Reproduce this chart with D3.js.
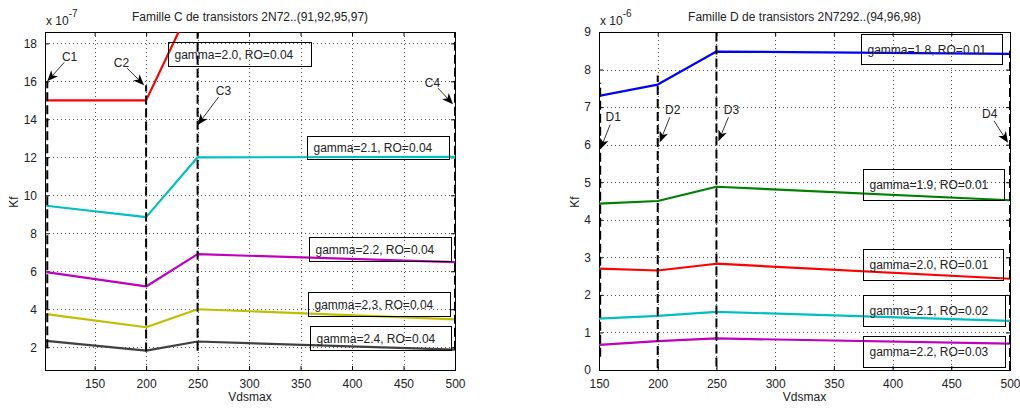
<!DOCTYPE html>
<html><head><meta charset="utf-8">
<script src="https://cdn.jsdelivr.net/npm/d3@7"></script>
<style>body{margin:0;background:#fff}svg{display:block}text{font-family:"Liberation Sans",Arial,sans-serif;fill:#222}</style>
</head><body><svg id="c" width="1020" height="408"></svg>
<script>
// ---------- data ----------
const titleC = "Famille C de transistors 2N72..(91,92,95,97)";
const titleD = "Famille D de transistors 2N7292..(94,96,98)";
const xLabel = "Vdsmax", yLabel = "Kf";
const xTicksC = [150, 200, 250, 300, 350, 400, 450, 500];
const yTicksC = [2, 4, 6, 8, 10, 12, 14, 16, 18];
const xTicksD = [150, 200, 250, 300, 350, 400, 450, 500];
const yTicksD = [0, 1, 2, 3, 4, 5, 6, 7, 8, 9];

const vdsC = [103, 200, 250, 500];
const kfC_g20 = [15.0, 15.0, 20.7, 20.5];
const kfC_g21 = [9.45, 8.85, 12.0, 12.02];
const kfC_g22 = [5.95, 5.2, 6.9, 6.48];
const kfC_g23 = [3.74, 3.05, 4.0, 3.47];
const kfC_g24 = [2.33, 1.82, 2.3, 1.87];
const labelsC = ["gamma=2.0, RO=0.04", "gamma=2.1, RO=0.04", "gamma=2.2, RO=0.04", "gamma=2.3, RO=0.04", "gamma=2.4, RO=0.04"];

const vdsD = [150, 200, 250, 500];
const kfD_g18 = [7.3, 7.6, 8.48, 8.42];
const kfD_g19 = [4.43, 4.5, 4.88, 4.52];
const kfD_g20 = [2.7, 2.65, 2.83, 2.43];
const kfD_g21 = [1.37, 1.44, 1.55, 1.31];
const kfD_g22 = [0.67, 0.77, 0.84, 0.70];
const labelsD = ["gamma=1.8, RO=0.01", "gamma=1.9, RO=0.01", "gamma=2.0, RO=0.01", "gamma=2.1, RO=0.02", "gamma=2.2, RO=0.03"];

// marker lines: name, x, y from, y to, arrow tip y
const markNamesC = ["C1", "C2", "C3", "C4"];
const markXC = [104, 200, 250, 500];
const markLoC = [1.95, 1.77, 1.82, 1.86];
const markHiC = [16.0, 15.8, 18.6, 18.6];
const markTipC = [16.0, 15.8, 13.7, 14.8];
const markNamesD = ["D1", "D2", "D3", "D4"];
const markXD = [151, 200, 250, 500];
const markLoD = [0.35, 0.05, 0.09, 0.0];
const markHiD = [7.65, 7.84, 9.0, 8.5];
const markTipD = [5.87, 6.06, 6.09, 6.05];

// ---------- layout ----------
const colors7 = ["#0000ff", "#008000", "#ff0000", "#00bfbf", "#bf00bf", "#bfbf00", "#404040"];
const svg = d3.select("#c");

function panel(cfg) {
  const {x0, x1, y0, y1, xDom, yDom, xTicks, yTicks, title, exp, series, xs, labels, boxes, marks, colors} = cfg;
  const x = d3.scaleLinear().domain(xDom).range([x0, x1]);
  const y = d3.scaleLinear().domain(yDom).range([y1, y0]);
  const g = svg.append("g");
  const cid = "clip" + Math.round(x0);
  svg.append("clipPath").attr("id", cid).append("rect").attr("x", x0).attr("y", y0).attr("width", x1 - x0).attr("height", y1 - y0);

  // grid
  const grid = g.append("g").attr("stroke", "#555").attr("stroke-width", 1).attr("stroke-dasharray", "1,3");
  xTicks.forEach(t => grid.append("line").attr("x1", Math.round(x(t)) + 0.5).attr("x2", Math.round(x(t)) + 0.5).attr("y1", y0).attr("y2", y1));
  yTicks.forEach(t => grid.append("line").attr("y1", Math.round(y(t)) + 0.5).attr("y2", Math.round(y(t)) + 0.5).attr("x1", x0).attr("x2", x1));

  // axes (inner ticks both sides)
  const ax = g.append("g");
  const bottom = d3.axisBottom(x).tickValues(xTicks).tickSizeInner(-4).tickSizeOuter(0).tickPadding(9);
  const top = d3.axisTop(x).tickValues(xTicks).tickSizeInner(-4).tickSizeOuter(0).tickFormat("");
  const left = d3.axisLeft(y).tickValues(yTicks).tickSizeInner(-4).tickSizeOuter(0).tickPadding(8);
  const right = d3.axisRight(y).tickValues(yTicks).tickSizeInner(-4).tickSizeOuter(0).tickFormat("");
  [[bottom, `translate(0,${y1})`], [top, `translate(0,${y0})`], [left, `translate(${x0},0)`], [right, `translate(${x1},0)`]].forEach(([a, tr]) => {
    const s = ax.append("g").attr("transform", tr).call(a);
    s.select(".domain").remove();
    s.selectAll("line").attr("stroke", "#000");
    s.selectAll("text").attr("font-size", 12).attr("fill", "#222").style("font-family", '"Liberation Sans",Arial,sans-serif');
  });
  g.append("rect").attr("x", x0 + 0.5).attr("y", y0 + 0.5).attr("width", x1 - x0).attr("height", y1 - y0).attr("fill", "none").attr("stroke", "#000");

  // series
  const line = d3.line().x((d, i) => x(xs[i])).y(d => y(d));
  const lg = g.append("g").attr("clip-path", `url(#${cid})`);
  series.forEach((s, i) => lg.append("path").attr("d", line(s)).attr("fill", "none").attr("stroke", colors[i]).attr("stroke-width", 2.2).attr("stroke-linejoin", "round"));

  // marker dashed lines
  const mg = g.append("g").attr("clip-path", `url(#${cid})`);
  marks.x.forEach((mx, i) => mg.append("line").attr("x1", x(mx)).attr("x2", x(mx)).attr("y1", y(marks.lo[i])).attr("y2", y(marks.hi[i]))
    .attr("stroke", "#000").attr("stroke-width", 2).attr("stroke-dasharray", "9,4"));

  // arrows
  marks.x.forEach((mx, i) => {
    const tx = x(mx) + marks.tipDx[i], ty = y(marks.tip[i]);
    const sx = tx + marks.off[i][0], sy = ty + marks.off[i][1];
    const L = Math.hypot(tx - sx, ty - sy), ux = (tx - sx) / L, uy = (ty - sy) / L;
    const hl = 11, hw = 4.5;
    const bx = tx - ux * hl, by = ty - uy * hl;
    const mxp = tx - ux * (hl - 3), myp = ty - uy * (hl - 3);
    g.append("line").attr("x1", sx).attr("y1", sy).attr("x2", bx + ux * 3).attr("y2", by + uy * 3).attr("stroke", "#333").attr("stroke-width", 1);
    g.append("path").attr("d", `M${tx},${ty}L${bx - uy * hw},${by + ux * hw}L${mxp},${myp}L${bx + uy * hw},${by - ux * hw}Z`).attr("fill", "#000");
    g.append("text").attr("x", sx - ux * 8).attr("y", sy - uy * 8).attr("dy", "0.35em").attr("text-anchor", "middle").attr("font-size", 12).text(marks.names[i]);
  });

  // text boxes
  labels.forEach((t, i) => {
    const bx = Math.round(x(boxes[i][0])) + 0.5, by = Math.round(y(boxes[i][1])) + 0.5;
    g.append("rect").attr("x", bx).attr("y", by).attr("width", boxes[i][2]).attr("height", boxes[i][3]).attr("fill", "none").attr("stroke", "#000").attr("stroke-width", 1);
    g.append("text").attr("x", bx + 6).attr("y", by + boxes[i][3] / 2).attr("dy", "0.35em").attr("font-size", 12).text(t);
  });

  // titles and labels
  g.append("text").attr("x", (x0 + x1) / 2).attr("y", 21).attr("text-anchor", "middle").attr("font-size", 12).text(title);
  const e = g.append("text").attr("x", x0 + 1).attr("y", 25).attr("font-size", 12);
  e.append("tspan").text("x 10");
  e.append("tspan").attr("dy", -8).attr("font-size", 10).text(exp);
  g.append("text").attr("x", (x0 + x1) / 2).attr("y", 401).attr("text-anchor", "middle").attr("font-size", 12).text(xLabel);
  g.append("text").attr("transform", `translate(${cfg.ylx},202) rotate(-90)`).attr("dy", "0.35em").attr("text-anchor", "middle").attr("font-size", 12).text(yLabel);
}

panel({
  x0: 45, x1: 455, y0: 32, y1: 370, xDom: [101.8, 500], yDom: [0.8, 18.6],
  xTicks: xTicksC, yTicks: yTicksC, title: titleC, exp: "-7", ylx: 14,
  xs: vdsC, series: [kfC_g20, kfC_g21, kfC_g22, kfC_g23, kfC_g24], colors: colors7.slice(2),
  labels: labelsC,
  boxes: [[220.8, 18.05, 143, 24], [356.3, 13.12, 142, 23], [357.9, 7.79, 142, 24], [357.3, 4.93, 142, 24], [358.9, 3.14, 141, 24]],
  marks: {names: markNamesC, x: markXC, lo: markLoC, hi: markHiC, tip: markTipC,
    tipDx: [0, -2, 0, -2], off: [[17, -19], [-17, -17], [21, -28], [-15, -16]]}
});
panel({
  x0: 599, x1: 1010, y0: 32, y1: 370, xDom: [150, 500], yDom: [0, 9],
  xTicks: xTicksD, yTicks: yTicksD, title: titleD, exp: "-6", ylx: 575,
  xs: vdsD, series: [kfD_g18, kfD_g19, kfD_g20, kfD_g21, kfD_g22], colors: colors7.slice(0, 5),
  labels: labelsD,
  boxes: [[372.9, 8.95, 141, 30], [374.4, 5.36, 141, 31], [374.9, 3.23, 140, 31], [374.9, 2.0, 142, 31], [374.9, 0.9, 142, 31]],
  marks: {names: markNamesD, x: markXD, lo: markLoD, hi: markHiD, tip: markTipD,
    tipDx: [0, 2, 2, -2], off: [[10, -25], [10, -25], [10, -24], [-14, -22]]}
});
</script></body></html>
